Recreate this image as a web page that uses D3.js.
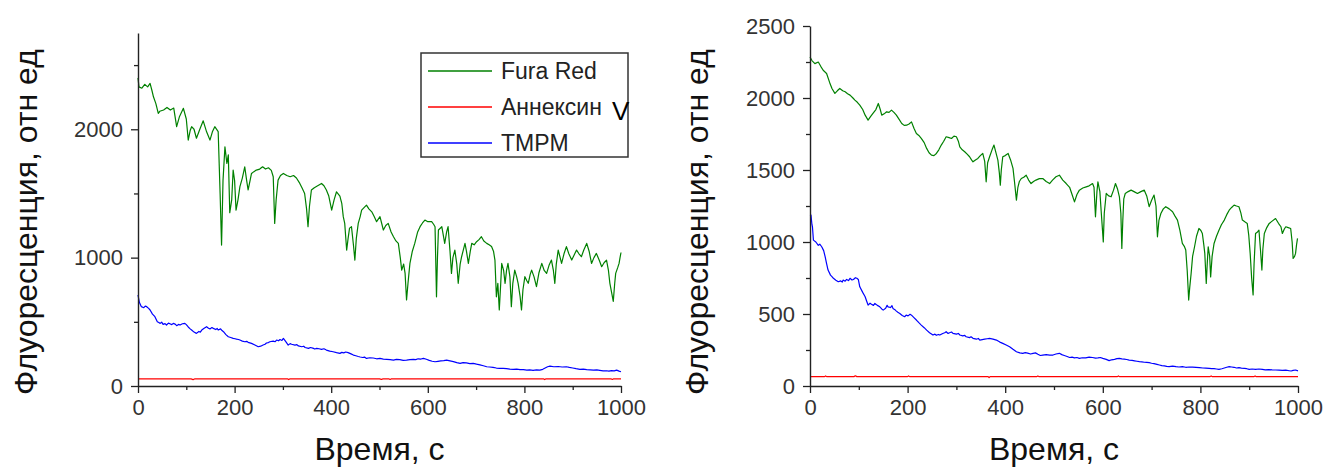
<!DOCTYPE html>
<html>
<head>
<meta charset="utf-8">
<script src="https://cdn.jsdelivr.net/npm/d3@7"></script>
<style>
  html, body { margin: 0; padding: 0; background: #fff; }
  svg text { font-family: "Liberation Sans", Arial, sans-serif; }
</style>
</head>
<body>
<div id="chart"></div>
<script>
// Series names and colours (legend order)
const seriesNames = ['Fura Red', 'Аннексин', 'TMPM'];
const seriesColors = ['#008000', '#ff0000', '#0000ff'];

// Tick values
const xTicks = [0, 200, 400, 600, 800, 1000];
const xMinor = [100, 300, 500, 700, 900];
const leftYTicks = [0, 1000, 2000];
const leftYMinor = [500, 1500, 2500];
const rightYTicks = [0, 500, 1000, 1500, 2000, 2500];
const rightYMinor = [250, 750, 1250, 1750, 2250];

// Left panel: [time, value]
const leftFura = [[0,2400],[2,2330],[8,2320],[14,2350],[20,2330],[25,2357],[29,2300],[32,2253],[37,2200],[42,2124],[45,2140],[53,2150],[60,2170],[67,2150],[74,2165],[80,2020],[86,2100],[94,2163],[100,2080],[104,1916],[108,1990],[111,2020],[116,2000],[121,1930],[128,2000],[135,2066],[142,1980],[149,1916],[154,1980],[159,2020],[166,1982],[170,1500],[173,1098],[176,1600],[180,1864],[184,1734],[187,1800],[190,1350],[194,1450],[197,1682],[200,1600],[203,1370],[207,1450],[211,1553],[216,1620],[221,1708],[225,1600],[228,1527],[232,1600],[235,1656],[240,1670],[245,1682],[252,1690],[258,1708],[264,1690],[270,1700],[276,1680],[280,1630],[283,1267],[286,1450],[290,1604],[295,1640],[301,1656],[308,1640],[315,1630],[322,1640],[328,1620],[335,1578],[340,1540],[345,1500],[349,1380],[352,1241],[355,1400],[359,1527],[365,1545],[372,1560],[380,1578],[385,1560],[390,1527],[395,1480],[401,1370],[406,1450],[411,1513],[418,1480],[422,1420],[425,1319],[428,1267],[432,1059],[435,1150],[438,1230],[442,1241],[446,1100],[449,981],[452,1150],[456,1267],[460,1320],[463,1370],[468,1390],[473,1409],[478,1380],[484,1357],[489,1320],[494,1280],[501,1319],[505,1260],[508,1215],[513,1250],[518,1267],[524,1200],[529,1163],[534,1130],[539,1111],[543,1000],[546,903],[550,950],[553,877],[556,670],[559,800],[563,955],[568,1050],[573,1111],[579,1200],[584,1241],[589,1270],[594,1293],[600,1280],[608,1280],[612,1260],[615,1241],[618,695],[620,1000],[622,1215],[629,1241],[635,1111],[639,1200],[642,1241],[646,1050],[649,877],[652,1000],[656,1059],[660,950],[663,800],[667,950],[670,1007],[677,1111],[680,1050],[684,955],[688,1050],[691,1111],[696,1100],[701,1124],[706,1140],[711,1163],[716,1130],[722,1111],[727,1100],[732,1086],[736,1050],[739,981],[742,695],[745,800],[748,592],[751,800],[753,955],[757,900],[760,800],[763,900],[766,955],[770,850],[773,618],[776,800],[780,903],[784,850],[787,800],[791,700],[794,592],[797,750],[801,852],[805,820],[808,800],[812,870],[815,903],[820,850],[825,774],[830,880],[836,955],[841,900],[846,877],[851,940],[856,981],[860,900],[863,800],[866,950],[870,1059],[874,1000],[877,955],[882,1030],[887,1086],[892,1030],[898,981],[903,1020],[908,1059],[913,1030],[918,1007],[923,1060],[929,1111],[934,1050],[939,955],[944,1000],[949,1033],[955,980],[960,929],[965,960],[970,981],[974,900],[977,800],[981,720],[984,659],[987,800],[989,877],[993,920],[996,955],[998,1000],[1000,1040]];
const leftAnnexin = [[0,55],[110,55],[114,50],[117,55],[310,55],[312,50],[314,55],[500,55],[504,51],[507,55],[520,55],[522,51],[524,55],[700,55],[840,55],[842,50],[844,55],[980,55],[982,51],[984,55],[1000,55]];
const leftTmpm = [[0,709],[3,650],[7,618],[12,610],[15,622],[18,618],[22,605],[25,592],[30,560],[35,540],[40,500],[43,494],[46,488],[49,498],[52,480],[56,486],[59,475],[63,490],[66,485],[70,478],[73,488],[77,482],[80,470],[84,480],[87,475],[92,485],[97,488],[100,478],[104,460],[108,445],[111,436],[116,420],[121,410],[126,425],[129,420],[132,436],[137,450],[142,462],[146,450],[149,445],[153,455],[156,449],[161,440],[164,448],[166,436],[171,445],[174,432],[177,423],[182,400],[187,384],[192,378],[197,371],[201,368],[204,365],[208,362],[211,358],[216,350],[221,345],[225,348],[228,340],[235,332],[242,320],[246,312],[249,306],[254,310],[259,319],[263,325],[266,335],[270,338],[273,345],[280,350],[284,345],[287,358],[291,352],[294,362],[298,355],[301,371],[306,345],[311,319],[315,330],[318,325],[325,319],[329,322],[332,312],[339,306],[343,310],[346,300],[353,293],[357,300],[362,295],[366,288],[370,293],[375,290],[380,285],[385,290],[390,280],[397,272],[404,267],[411,260],[418,254],[422,262],[426,258],[430,265],[435,260],[441,250],[446,241],[451,236],[456,230],[460,226],[465,222],[469,225],[473,215],[480,220],[487,218],[494,212],[501,215],[508,210],[515,208],[522,205],[529,202],[535,208],[542,205],[549,200],[556,202],[563,206],[570,208],[575,205],[580,212],[586,210],[591,215],[597,208],[603,200],[609,193],[615,189],[621,192],[627,195],[633,198],[639,202],[646,196],[653,190],[660,182],[667,176],[673,182],[680,180],[687,174],[694,176],[701,170],[708,165],[715,158],[722,150],[728,148],[735,145],[742,140],[749,137],[756,138],[763,135],[770,132],[777,130],[784,131],[791,128],[798,127],[805,124],[811,125],[818,122],[825,126],[832,124],[838,130],[843,140],[848,150],[853,155],[861,150],[870,152],[878,148],[887,150],[893,145],[900,140],[907,135],[915,130],[922,131],[929,128],[936,126],[943,124],[950,125],[956,122],[963,118],[970,119],[975,116],[980,120],[986,118],[991,124],[996,116],[1000,111]];

// Right panel: [time, value]
const rightFura = [[0,2285],[4,2260],[10,2239],[17,2250],[22,2220],[27,2193],[34,2170],[40,2110],[45,2066],[51,2032],[56,2050],[61,2066],[67,2050],[72,2043],[77,2030],[82,2020],[88,2000],[92,1985],[97,1970],[102,1950],[108,1920],[113,1881],[119,1846],[124,1870],[129,1893],[135,1920],[140,1962],[144,1920],[147,1881],[152,1890],[157,1904],[162,1900],[167,1916],[172,1900],[177,1881],[183,1850],[188,1823],[193,1810],[198,1811],[203,1820],[208,1834],[213,1790],[218,1754],[223,1740],[228,1719],[234,1690],[239,1650],[244,1620],[249,1603],[254,1600],[259,1615],[264,1640],[269,1673],[274,1700],[279,1731],[285,1725],[290,1719],[295,1735],[300,1731],[304,1700],[307,1661],[312,1640],[317,1627],[322,1610],[327,1592],[331,1570],[334,1557],[339,1570],[344,1580],[349,1600],[354,1615],[358,1560],[361,1418],[364,1550],[368,1592],[373,1640],[377,1673],[381,1620],[385,1569],[388,1480],[390,1395],[392,1500],[395,1592],[400,1600],[406,1615],[411,1570],[416,1511],[419,1420],[423,1291],[426,1380],[429,1420],[433,1441],[438,1450],[443,1464],[448,1430],[453,1406],[458,1420],[463,1430],[470,1440],[477,1441],[484,1420],[491,1406],[497,1430],[504,1453],[511,1464],[518,1430],[525,1406],[532,1380],[537,1330],[542,1279],[547,1330],[552,1360],[559,1375],[566,1383],[572,1390],[579,1406],[582,1380],[585,1175],[588,1350],[590,1418],[594,1350],[597,1198],[599,1100],[601,1001],[603,1200],[607,1337],[612,1320],[617,1314],[622,1360],[626,1406],[630,1370],[634,1314],[637,1200],[639,955],[641,1150],[643,1300],[646,1337],[652,1350],[658,1360],[664,1350],[671,1337],[678,1350],[685,1360],[690,1320],[695,1245],[700,1290],[705,1326],[709,1250],[712,1036],[715,1150],[719,1198],[724,1230],[729,1245],[736,1230],[743,1210],[748,1180],[753,1152],[758,1080],[763,990],[767,970],[770,944],[773,800],[776,597],[778,680],[781,781],[784,900],[788,967],[792,1040],[797,1094],[801,1080],[804,1059],[807,980],[809,921],[812,712],[814,850],[816,967],[819,900],[821,758],[824,900],[828,990],[833,1040],[838,1082],[843,1120],[849,1152],[854,1190],[859,1221],[864,1240],[869,1256],[874,1250],[879,1245],[883,1200],[886,1152],[891,1140],[896,1129],[899,1050],[902,921],[905,750],[908,632],[910,850],[913,1059],[917,1070],[920,1082],[923,950],[926,805],[928,950],[931,1059],[936,1100],[941,1129],[947,1145],[954,1163],[960,1130],[965,1106],[968,1059],[972,1090],[975,1106],[980,1100],[985,1094],[988,1000],[990,886],[993,900],[995,921],[997,980],[999,1025]];
const rightAnnexin = [[0,65],[30,65],[32,70],[34,65],[90,65],[93,71],[96,65],[200,65],[202,70],[204,65],[365,65],[367,58],[369,65],[465,65],[467,70],[469,65],[630,65],[632,70],[634,65],[820,65],[822,70],[824,65],[910,65],[912,70],[914,65],[1000,65]];
const rightTmpm = [[0,1190],[2,1187],[4,1120],[5,1106],[7,1013],[12,1000],[17,977],[20,985],[24,967],[28,940],[31,898],[34,850],[37,805],[42,770],[45,760],[48,748],[53,735],[58,724],[63,730],[66,722],[68,736],[72,728],[75,740],[79,732],[82,748],[86,736],[89,740],[93,752],[96,748],[99,740],[102,689],[108,650],[113,620],[116,590],[119,562],[123,575],[126,568],[130,560],[133,573],[138,560],[143,550],[147,535],[150,527],[155,540],[158,560],[160,550],[165,545],[168,558],[170,539],[174,530],[177,520],[180,512],[184,504],[189,490],[194,481],[197,492],[201,487],[205,498],[208,492],[213,475],[218,458],[223,440],[228,423],[234,405],[239,388],[245,370],[252,354],[256,360],[259,352],[263,358],[266,354],[272,365],[276,370],[279,377],[283,365],[286,370],[290,375],[293,365],[300,360],[304,365],[307,354],[313,348],[317,352],[320,342],[327,336],[330,342],[334,331],[341,325],[345,330],[348,319],[353,322],[358,325],[363,328],[368,331],[375,326],[382,319],[389,305],[395,296],[402,285],[409,273],[416,255],[423,238],[430,230],[436,227],[441,232],[446,228],[452,222],[457,227],[462,230],[467,220],[472,212],[477,215],[484,218],[491,215],[498,215],[504,222],[511,227],[516,218],[521,212],[527,205],[532,198],[537,200],[542,195],[547,198],[552,192],[558,196],[565,195],[572,200],[579,198],[585,194],[590,195],[595,198],[600,192],[607,185],[613,176],[618,182],[624,185],[629,190],[634,192],[639,188],[644,186],[649,184],[654,180],[660,178],[665,175],[670,172],[675,169],[680,168],[685,165],[690,164],[695,162],[700,158],[705,155],[711,150],[716,146],[721,142],[726,140],[731,136],[736,134],[743,138],[750,134],[756,132],[763,134],[770,130],[777,132],[784,131],[791,129],[798,127],[805,125],[811,124],[818,122],[823,120],[828,120],[833,118],[838,116],[844,120],[849,125],[854,130],[859,134],[864,132],[869,130],[874,125],[879,127],[884,124],[890,122],[895,120],[900,116],[906,118],[913,116],[920,118],[927,116],[933,112],[940,114],[947,112],[954,111],[961,110],[968,108],[975,110],[982,106],[986,104],[990,108],[995,111],[1000,105]];

const width = 1327;
const height = 467;

const svg = d3.select('#chart')
  .append('svg')
  .attr('width', width)
  .attr('height', height)
  .style('display', 'block');

svg.append('rect')
  .attr('width', width)
  .attr('height', height)
  .attr('fill', '#fff');

function drawPanel(opts) {
  const x = d3.scaleLinear().domain([0, 1000]).range([opts.x0, opts.x1]);
  const y = d3.scaleLinear().domain([0, opts.yMax]).range([opts.y0, opts.y1]);

  const g = svg.append('g');

  // Data lines
  const line = d3.line()
    .x(d => x(d[0]))
    .y(d => y(d[1]));

  opts.series.forEach((s, i) => {
    g.append('path')
      .datum(s)
      .attr('fill', 'none')
      .attr('stroke', seriesColors[i])
      .attr('stroke-width', 1.2)
      .attr('stroke-linejoin', 'round')
      .attr('d', line);
  });

  // Minor ticks
  g.append('g')
    .attr('transform', `translate(0,${opts.y0})`)
    .call(d3.axisBottom(x).tickValues(xMinor).tickSize(4).tickFormat(''))
    .call(a => a.select('.domain').remove());
  g.append('g')
    .attr('transform', `translate(${opts.x0},0)`)
    .call(d3.axisLeft(y).tickValues(opts.yMinor).tickSize(4).tickFormat(''))
    .call(a => a.select('.domain').remove());

  // Major axes
  const xAxis = g.append('g')
    .attr('transform', `translate(0,${opts.y0})`)
    .call(d3.axisBottom(x).tickValues(xTicks).tickFormat(d3.format('d'))
      .tickSize(7).tickSizeOuter(0).tickPadding(6));
  const yAxis = g.append('g')
    .attr('transform', `translate(${opts.x0},0)`)
    .call(d3.axisLeft(y).tickValues(opts.yTicks).tickFormat(d3.format('d'))
      .tickSize(7).tickSizeOuter(0).tickPadding(8));

  g.selectAll('.domain').attr('stroke', '#222').attr('stroke-width', 1.4);
  g.selectAll('.tick line').attr('stroke', '#222').attr('stroke-width', 1.3);
  [xAxis, yAxis].forEach(a => a.selectAll('text')
    .style('font-family', '"Liberation Sans", Arial, sans-serif')
    .style('font-size', '22px')
    .attr('fill', '#333'));

  // Axis titles
  svg.append('text')
    .attr('x', (opts.x0 + opts.x1) / 2)
    .attr('y', 460)
    .attr('text-anchor', 'middle')
    .style('font-size', '32px')
    .attr('fill', '#111')
    .text('Время, с');

  svg.append('text')
    .attr('transform', `translate(${opts.titleX},222) rotate(-90)`)
    .attr('text-anchor', 'middle')
    .style('font-size', '32px')
    .attr('fill', '#111')
    .text('Флуоресценция, отн ед');
}

drawPanel({
  x0: 138, x1: 621, y0: 386, y1: 33, yMax: 2750,
  yTicks: leftYTicks, yMinor: leftYMinor,
  series: [leftFura, leftAnnexin, leftTmpm],
  titleX: 37
});

drawPanel({
  x0: 810, x1: 1298, y0: 386, y1: 26, yMax: 2500,
  yTicks: rightYTicks, yMinor: rightYMinor,
  series: [rightFura, rightAnnexin, rightTmpm],
  titleX: 708
});

// Legend (left panel)
const legend = svg.append('g').attr('transform', 'translate(421,53)');
legend.append('rect')
  .attr('width', 207)
  .attr('height', 104)
  .attr('fill', '#fff')
  .attr('stroke', '#333')
  .attr('stroke-width', 1.5);

seriesNames.forEach((name, i) => {
  const cy = 18 + i * 36;
  legend.append('line')
    .attr('x1', 7).attr('x2', 71)
    .attr('y1', cy).attr('y2', cy)
    .attr('stroke', seriesColors[i])
    .attr('stroke-width', 1.3);
  legend.append('text')
    .attr('x', 80)
    .attr('y', cy + 8)
    .style('font-size', '23px')
    .attr('fill', '#222')
    .text(name);
});

// the stray "V" after Аннексин sits a bit lower and larger
legend.append('text')
  .attr('x', 191)
  .attr('y', 67)
  .style('font-size', '26px')
  .attr('fill', '#000')
  .text('V');
</script>
</body>
</html>
